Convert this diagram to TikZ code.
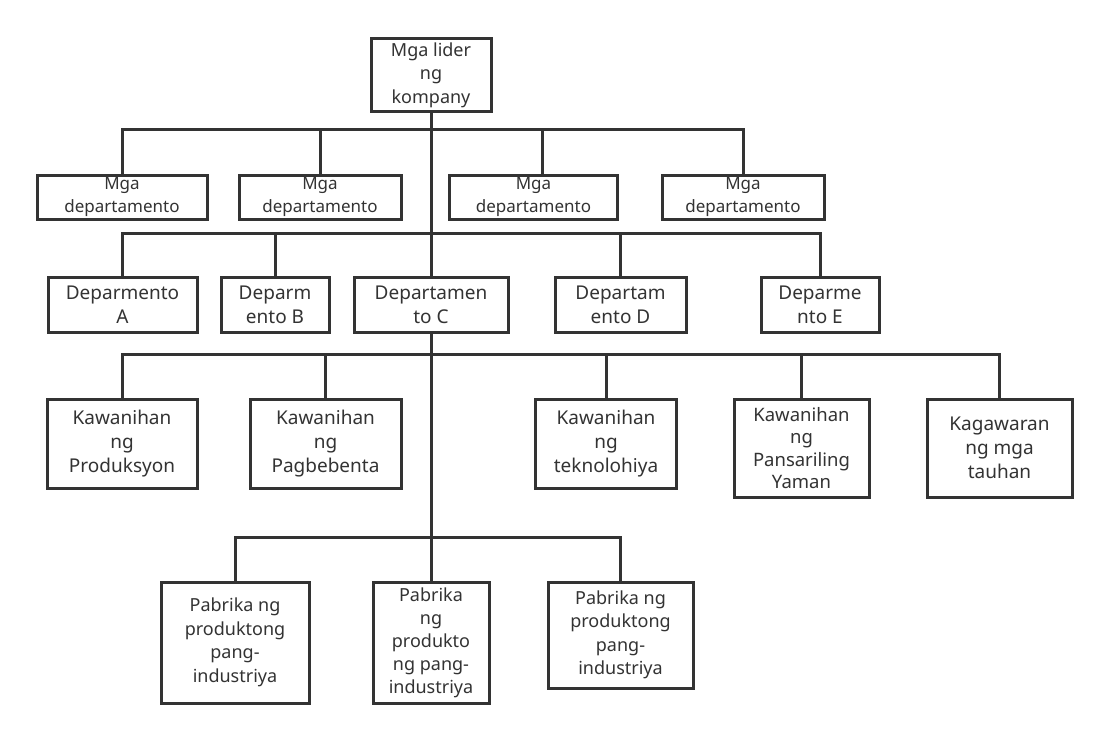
\documentclass[tikz,border=0pt]{standalone}
\usepackage{fontspec}
\setmainfont{Noto Sans}
\usepackage{xcolor}
\definecolor{ink}{HTML}{333333}

\begin{document}
\begin{tikzpicture}[
  x=1pt, y=-1pt,
  font=\fontsize{18}{23.5}\selectfont, text=ink,
  box/.style 2 args={draw=ink, line width=3pt, fill=white, align=center,
    inner sep=0pt, minimum width=#1, minimum height=#2},
  dept/.style={font=\fontsize{17}{23}\selectfont},
  big/.style={font=\fontsize{19}{24}\selectfont},
  link/.style={draw=ink, line width=3pt}
]
  \useasboundingbox (0,0) rectangle (1108,741);

  % top
  \node[box={120pt}{73pt}] (top) at (431,75) {Mga lider\\ng\\kompany};

  % departments
  \node[box={170pt}{44pt}, dept] (a1) at (122,197) {Mga\\departamento};
  \node[box={162pt}{44pt}, dept] (a2) at (320,197) {Mga\\departamento};
  \node[box={168pt}{44pt}, dept] (a3) at (533.5,197) {Mga\\departamento};
  \node[box={162pt}{44pt}, dept] (a4) at (743,197) {Mga\\departamento};

  \node[box={149pt}{55pt}, big] (b1) at (122.5,304.5) {Deparmento\\A};
  \node[box={108pt}{55pt}, big] (b2) at (275,304.5) {Deparm\\ento B};
  \node[box={154pt}{55pt}, big] (b3) at (431,304.5) {Departamen\\to C};
  \node[box={131pt}{55pt}, big] (b4) at (620.5,304.5) {Departam\\ento D};
  \node[box={118pt}{55pt}, big] (b5) at (820,304.5) {Deparme\\nto E};

  % bureaus
  \node[box={150pt}{89pt}, big] (c1) at (122,443.5) {Kawanihan\\ng\\Produksyon};
  \node[box={151pt}{89pt}, big] (c2) at (325.5,443.5) {Kawanihan\\ng\\Pagbebenta};
  \node[box={141pt}{89pt}, big] (c3) at (606,443.5) {Kawanihan\\ng\\teknolohiya};
  \node[box={135pt}{98pt}, font=\fontsize{18.5}{22.5}\selectfont] (c4) at (801.5,448)
    {Kawanihan\\ng\\Pansariling\\Yaman};
  \node[box={145pt}{98pt}, big] (c5) at (999.5,448) {Kagawaran\\ng mga\\tauhan};

  % factories
  \node[box={148pt}{121pt}] (d1) at (235,642.5)
    {Pabrika ng\\produktong\\pang-\\industriya};
  \node[box={116pt}{121pt}, font=\fontsize{18}{23}\selectfont] (d2) at (431,642.5)
    {Pabrika\\ng\\produkto\\ng pang-\\industriya};
  \node[box={145pt}{106pt}] (d3) at (620.5,635)
    {Pabrika ng\\produktong\\pang-\\industriya};

  \coordinate (bus1) at (431,130);
  \coordinate (bus2) at (431,233);
  \coordinate (bus3) at (431,354);
  \coordinate (bus4) at (431,537);

  \draw[link] (top.south) -- (b3.north);
  \foreach \n in {a1,a2,a4}
    \draw[link] (bus1) -| (\n.north);
  \draw[link] (bus1) -| ([xshift=8.5pt]a3.north);
  \foreach \n in {b1,b2,b4,b5}
    \draw[link] (bus2) -| (\n.north);
  \draw[link] (b3.south) -- (bus4);
  \foreach \n in {c1,c2,c3,c4,c5}
    \draw[link] (bus3) -| (\n.north);
  \foreach \n in {d1,d2,d3}
    \draw[link] (bus4) -| (\n.north);
\end{tikzpicture}
\end{document}
